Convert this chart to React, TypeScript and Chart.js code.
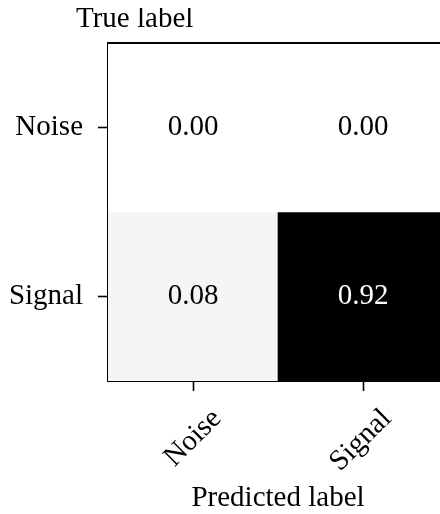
import { useEffect, useRef } from 'react';
import { Chart, registerables } from 'chart.js';

Chart.register(...registerables);

// ---- data ----
const predictedLabels = ['Noise', 'Signal'];
const trueLabels = ['Noise', 'Signal'];
const rowNoise = [0.0, 0.0];
const rowSignal = [0.08, 0.92];
const matrix = [rowNoise, rowSignal];
const xTitle = 'Predicted label';
const yTitle = 'True label';

// matplotlib "Greys" colormap anchors (fraction of white)
const GREYS = [1.0, 0.941, 0.851, 0.741, 0.588, 0.451, 0.322, 0.145, 0.0];
function greys(t: number): string {
  const c = Math.min(1, Math.max(0, t)) * (GREYS.length - 1);
  const i = Math.min(GREYS.length - 2, Math.floor(c));
  const f = c - i;
  const g = Math.round((GREYS[i] + (GREYS[i + 1] - GREYS[i]) * f) * 255);
  return `rgb(${g},${g},${g})`;
}

const FONT = "'Liberation Serif', 'Times New Roman', serif";
const FS = 29;

export default function App() {
  const ref = useRef<HTMLCanvasElement>(null);

  useEffect(() => {
    document.documentElement.style.overflow = 'hidden';
    const canvas = ref.current;
    if (!canvas) return;
    const maxV = Math.max(...matrix.flat());

    const datasets = matrix.map((row, r) => ({
      label: trueLabels[r],
      data: row.map(() => [r, r + 1]),
      backgroundColor: row.map((v) => greys(v / maxV)),
      borderWidth: 0,
      barPercentage: 1,
      categoryPercentage: 1,
      grouped: false,
    }));

    const cellText = {
      id: 'cellText',
      afterDatasetsDraw(chart: any) {
        const ctx = chart.ctx;
        ctx.save();
        ctx.font = `${FS}px ${FONT}`;
        ctx.textAlign = 'center';
        ctx.textBaseline = 'alphabetic';
        chart.data.datasets.forEach((_: any, di: number) => {
          const meta = chart.getDatasetMeta(di);
          meta.data.forEach((el: any, i: number) => {
            const v = matrix[di][i];
            const p = el.getProps(['x', 'y', 'base'], true);
            const cy = (p.y + p.base) / 2;
            ctx.fillStyle = v > maxV / 2 ? '#ffffff' : '#000000';
            ctx.fillText(v.toFixed(2), p.x, cy + FS * 0.25);
          });
        });
        ctx.restore();
      },
      afterDraw(chart: any) {
        const { ctx, chartArea } = chart;
        ctx.save();
        ctx.strokeStyle = '#000';
        ctx.lineWidth = 2;
        ctx.beginPath();
        ctx.moveTo(chartArea.left - 1, chartArea.top);
        ctx.lineTo(chartArea.right + 1, chartArea.top);
        ctx.stroke();
        ctx.font = `${FS}px ${FONT}`;
        ctx.fillStyle = '#000';
        ctx.textAlign = 'left';
        ctx.textBaseline = 'alphabetic';
        ctx.fillText(yTitle, chartArea.left - 32, chartArea.top - 16);
        ctx.restore();
      },
    };

    const chart = new Chart(canvas, {
      type: 'bar',
      data: { labels: predictedLabels, datasets: datasets as any },
      plugins: [cellText],
      options: {
        responsive: false,
        animation: false,
        layout: { padding: { top: 35, left: 0, right: 0, bottom: 0 } },
        plugins: { legend: { display: false }, tooltip: { enabled: false }, title: { display: false } },
        scales: {
          x: {
            type: 'category',
            offset: true,
            z: 1,
            grid: {
              display: true,
              drawOnChartArea: false,
              drawTicks: true,
              tickLength: 10,
              tickColor: '#000',
              tickWidth: 1.6,
              offset: false,
            },
            border: { display: true, color: '#000', width: 2 },
            ticks: {
              color: '#000',
              font: { family: FONT, size: FS },
              minRotation: 45,
              maxRotation: 45,
              labelOffset: 24,
              padding: 11,
              autoSkip: false,
            },
            title: {
              display: true,
              text: xTitle,
              color: '#000',
              font: { family: FONT, size: FS },
              padding: { top: 0, bottom: -2 },
            },
            afterFit(scale: any) {
              scale.height = 133;
            },
          },
          y: {
            type: 'linear',
            min: 0,
            max: 2,
            reverse: true,
            z: 1,
            grid: {
              display: true,
              drawOnChartArea: false,
              drawTicks: true,
              tickLength: 10,
              tickColor: '#000',
              tickWidth: 1.6,
            },
            border: { display: true, color: '#000', width: 2 },
            afterBuildTicks(scale: any) {
              scale.ticks = trueLabels.map((_, i) => ({ value: i + 0.5 }));
            },
            ticks: {
              color: '#000',
              font: { family: FONT, size: FS },
              padding: 15,
              callback: (value: any) => trueLabels[Math.floor(Number(value))],
            },
            afterFit(scale: any) {
              scale.width = 100;
            },
          },
        },
      },
    });
    return () => chart.destroy();
  }, []);

  return (
    <div style={{ position: 'fixed', left: 8, top: 8, width: 440, height: 506, overflow: 'hidden' }}>
      <canvas ref={ref} width={440} height={506} style={{ display: 'block' }} />
    </div>
  );
}
